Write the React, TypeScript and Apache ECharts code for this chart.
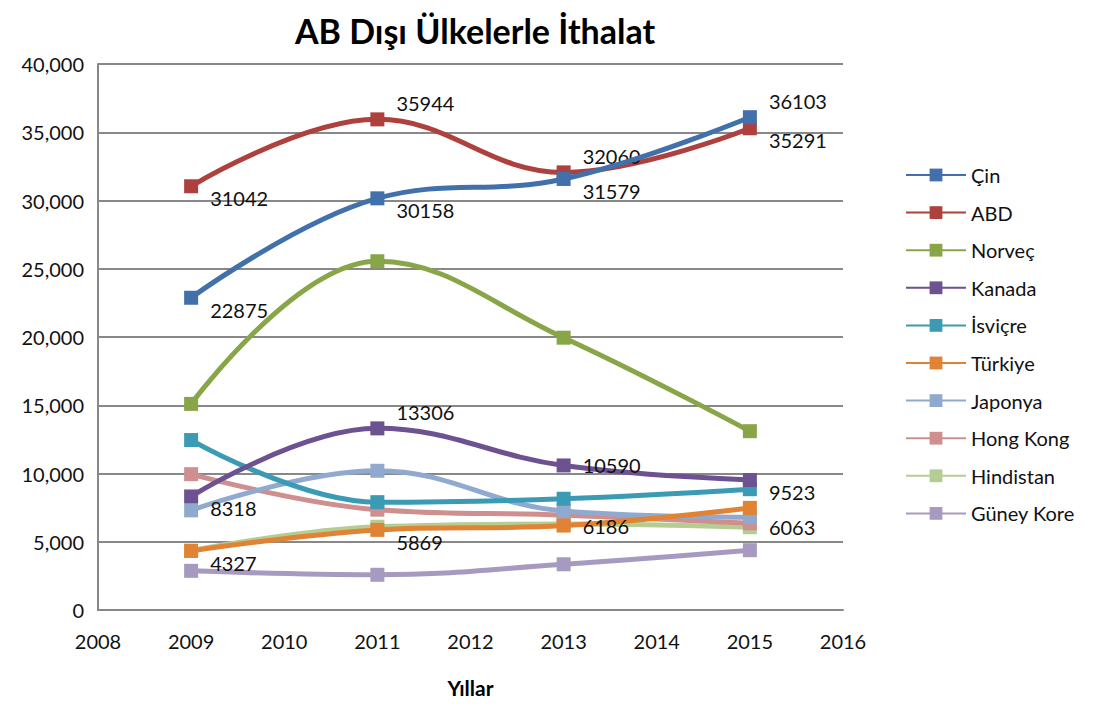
import React, { useEffect, useRef } from "react";
import * as echarts from "echarts";

const years = [2009, 2011, 2013, 2015];
const seriesNames = ["Çin", "ABD", "Norveç", "Kanada", "İsviçre", "Türkiye", "Japonya", "Hong Kong", "Hindistan", "Güney Kore"];
const cin = [22875, 30158, 31579, 36103];
const abd = [31042, 35944, 32060, 35291];
const norvec = [15100, 25550, 19950, 13100];
const kanada = [8318, 13306, 10590, 9523];
const isvicre = [12450, 7900, 8150, 8850];
const turkiye = [4327, 5869, 6186, 7480];
const japonya = [7300, 10200, 7250, 6800];
const hongKong = [9950, 7350, 6950, 6350];
const hindistan = [4350, 6100, 6300, 6063];
const guneyKore = [2870, 2580, 3350, 4380];
const xTicks = { min: 2008, max: 2016, interval: 1 };
const yTicks = { min: 0, max: 40000, interval: 5000 };

// which points carry a value label: "u" above-right, "d" below-right, "r" right, "" none
const labelSpec: Record<string, string[]> = {
  "Çin": ["d", "d", "d", "u"],
  "ABD": ["d", "u", "u", "d"],
  "Kanada": ["d", "u", "r", "d"],
  "Türkiye": ["d", "d", "r", ""],
  "Hindistan": ["", "", "", "r"],
};

const colors = ["#4170AB", "#AE413E", "#88A548", "#6C5291", "#3C9BB4", "#E08334", "#90AACF", "#CE8F8E", "#B5CC93", "#A79AC0"];
const allData = [cin, abd, norvec, kanada, isvicre, turkiye, japonya, hongKong, hindistan, guneyKore];

const FONT = "Lato, 'Open Sans', sans-serif";

export default function App() {
  const ref = useRef<HTMLDivElement>(null);
  useEffect(() => {
    const chart = echarts.init(ref.current!, null, { renderer: "svg" });
    const series = seriesNames.map((name, si) => {
      const spec = labelSpec[name] || [];
      return {
        name,
        type: "line",
        smooth: 0.4,
        symbol: "rect",
        symbolSize: 14,
        z: 10 - si,
        lineStyle: { width: 5, color: colors[si] },
        itemStyle: { color: colors[si] },
        data: years.map((y, i) => {
          const s = spec[i] || "";
          const item: any = { value: [y, allData[si][i]] };
          if (s) {
            const dy = s === "u" ? -16 : s === "d" ? 12 : 0;
            item.label = {
              show: true,
              position: "right",
              distance: 8,
              offset: [4, dy],
              formatter: String(allData[si][i]),
              fontSize: 20,
              fontFamily: FONT,
              color: "#111",
            };
          }
          return item;
        }),
      };
    });
    chart.setOption({
      animation: false,
      color: colors,
      title: {
        text: "AB Dışı Ülkelerle İthalat",
        left: 462,
        textAlign: "center",
        top: 0,
        textStyle: { fontSize: 34, fontWeight: "bold", fontFamily: FONT, color: "#000" },
      },
      grid: { left: 90, right: 261, top: 56, bottom: 84 },
      legend: {
        orient: "vertical",
        left: 892,
        top: 152,
        itemGap: 17.6,
        itemWidth: 60,
        itemHeight: 16,
        textStyle: { fontSize: 20, fontFamily: FONT, color: "#111" },
        data: seriesNames,
      },
      xAxis: {
        type: "value",
        ...xTicks,
        name: "Yıllar",
        nameLocation: "middle",
        nameGap: 67,
        nameTextStyle: { fontSize: 21, fontWeight: "bold", fontFamily: FONT, color: "#000" },
        axisLine: { show: true, lineStyle: { color: "#888", width: 2 } },
        axisTick: { show: false },
        splitLine: { show: false },
        axisLabel: { fontSize: 20, fontFamily: FONT, color: "#111", margin: 21, formatter: (v: number) => String(v) },
      },
      yAxis: {
        type: "value",
        ...yTicks,
        axisLine: { show: true, lineStyle: { color: "#888", width: 2 } },
        axisTick: { show: false },
        splitLine: { show: true, lineStyle: { color: "#888", width: 2 } },
        axisLabel: {
          fontSize: 20,
          fontFamily: FONT,
          color: "#111",
          margin: 14,
          formatter: (v: number) => v.toLocaleString("en-US"),
        },
      },
      series,
    });
    return () => chart.dispose();
  }, []);
  return <div ref={ref} style={{ width: 1096, height: 695 }} />;
}
